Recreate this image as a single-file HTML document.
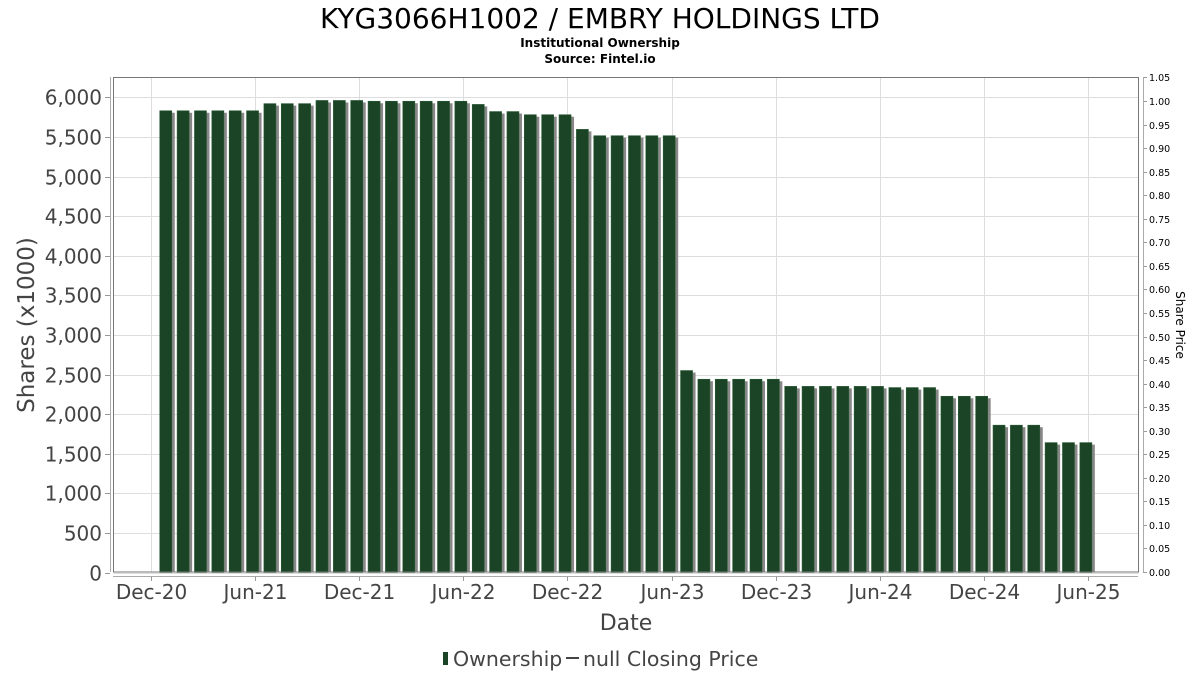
<!DOCTYPE html>
<html><head><meta charset="utf-8"><style>
html,body{margin:0;padding:0;background:#fff;}
svg{display:block;font-family:"DejaVu Sans","Liberation Sans",sans-serif;}
</style></head><body>
<svg id="chart" width="1200" height="675" viewBox="0 0 1200 675">
<text x="600" y="28" text-anchor="middle" font-size="28" fill="#000">KYG3066H1002 / EMBRY HOLDINGS LTD</text>
<text x="600" y="47" text-anchor="middle" font-size="12" font-weight="bold" fill="#000">Institutional Ownership</text>
<text x="600" y="63" text-anchor="middle" font-size="12" font-weight="bold" fill="#000">Source: Fintel.io</text>
<g id="grid"></g>
<g id="bars"></g>
<rect x="113.5" y="77.5" width="1025" height="494.5" fill="none" stroke="#777" stroke-width="1"/>
<g id="axes"></g>
<text transform="translate(34,325) rotate(-90)" text-anchor="middle" font-size="23" fill="#444">Shares (x1000)</text>
<text transform="translate(1176,325) rotate(90)" text-anchor="middle" font-size="12" fill="#000">Share Price</text>
<text x="626" y="630" text-anchor="middle" font-size="22" fill="#444">Date</text>
<g>
<rect x="443" y="652" width="5" height="13" fill="#1a4425"/>
<text x="453" y="666" font-size="20.5" fill="#444">Ownership</text>
<line x1="566" y1="658" x2="579" y2="658" stroke="#444" stroke-width="2"/>
<text x="583" y="666" font-size="20.5" fill="#444">null Closing Price</text>
</g>
</svg>
<script>
const barValues = [5830,5830,5830,5830,5830,5830,5920,5920,5920,5960,5960,5960,5950,5950,5950,5950,5950,5950,5910,5820,5820,5780,5780,5780,5595,5515,5515,5515,5515,5515,2550,2440,2440,2440,2440,2440,2350,2350,2350,2350,2350,2350,2335,2335,2335,2225,2225,2225,1860,1860,1860,1640,1640,1640];
const leftTicks = [0,500,1000,1500,2000,2500,3000,3500,4000,4500,5000,5500,6000];
const rightTicks = [0,0.05,0.1,0.15,0.2,0.25,0.3,0.35,0.4,0.45,0.5,0.55,0.6,0.65,0.7,0.75,0.8,0.85,0.9,0.95,1.0,1.05];
const xTickLabels = ["Dec-20","Jun-21","Dec-21","Jun-22","Dec-22","Jun-23","Dec-23","Jun-24","Dec-24","Jun-25"];
const xTickMonths = [0,6,12,18,24,30,36,42,48,54];

const NS="http://www.w3.org/2000/svg";
const yL = v => 572.5 - v*(475.2/6000);
const yR = v => 572 - v*(471/1.0);
const xM = m => 150.7 + m*17.36;
function mk(tag, attrs, parent){const e=document.createElementNS(NS,tag);for(const k in attrs)e.setAttribute(k,attrs[k]);parent.appendChild(e);return e;}
const grid=document.getElementById('grid'), bars=document.getElementById('bars'), axes=document.getElementById('axes');

leftTicks.forEach(v=>{
  const y=Math.round(yL(v))+0.5;
  const g=mk('line',{x1:113.5,x2:1138.5,y1:y,y2:y,stroke:'#ddd','stroke-width':1},grid);
  
  
  const t=mk('line',{x1:105,x2:110,y1:y,y2:y,stroke:'#999'},axes);
  
  
  const l=mk('text',{x:102,y:y+7,'text-anchor':'end','font-size':20,fill:'#444'},axes);
  l.textContent=v.toLocaleString('en-US');
  
  
});
xTickMonths.forEach((m,i)=>{
  const x=Math.round(xM(m))+0.5;
  const g=mk('line',{x1:x,x2:x,y1:77.5,y2:572,stroke:'#ddd','stroke-width':1},grid);
  
  
  const t=mk('line',{x1:x,x2:x,y1:576,y2:581,stroke:'#999'},axes);
  
  
  const l=mk('text',{x:x,y:599,'text-anchor':'middle','font-size':20,fill:'#444'},axes);
  l.textContent=xTickLabels[i];
  
  
});
rightTicks.forEach(v=>{
  const y=Math.round(yR(v))+0.5;
  const t=mk('line',{x1:1143,x2:1147,y1:y,y2:y,stroke:'#999'},axes);
  
  
  const l=mk('text',{x:1149,y:y+3.5,'font-size':9.5,fill:'#000'},axes);
  l.textContent=v.toFixed(2);
  
  
});
let a=mk('line',{x1:110.5,x2:110.5,y1:77,y2:572,stroke:'#aaa'},axes);


a=mk('line',{x1:1143.5,x2:1143.5,y1:77,y2:572,stroke:'#aaa'},axes);


a=mk('line',{x1:113,x2:1138,y1:576.5,y2:576.5,stroke:'#aaa'},axes);



barValues.forEach((v,i)=>{
  const cx=xM(i+1)-2.3, w=12, top=yL(v), bot=yL(0);
  const s=mk('rect',{x:cx-w/2+3,y:top+2,width:w,height:bot-top-2,fill:'#888'},bars);
  
  
  const b=mk('rect',{x:cx-w/2,y:top,width:w,height:bot-top,fill:'#1a4425',stroke:'#2a5a35','stroke-width':0.6},bars);
  
  
});
</script>
</body></html>
